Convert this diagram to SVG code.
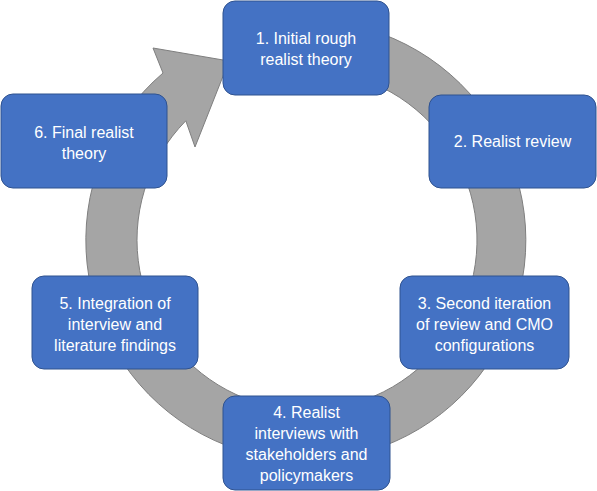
<svg xmlns="http://www.w3.org/2000/svg" width="597" height="491" viewBox="0 0 597 491">
<style>
.box{fill:#4472C4;stroke:#2F528F;stroke-width:1}
.lbl{fill:#FFFFFF;font-family:"Liberation Sans",Arial,sans-serif;font-size:16px;text-anchor:middle}
.ring{fill:#A5A5A5;stroke:#7F7F7F;stroke-width:1}
</style>
<rect width="597" height="491" fill="#FFFFFF"/>
<g id="connectors">
<path class="ring" d="M185.8,120.8 L195,147 L229,61 L153,48 L163,73 A220,220 0 1 0 250.1,27.5 L263,75.8 A170,170 0 1 1 185.8,120.8 Z"/>
</g>
<g id="node1">
<rect class="box" x="223" y="1" width="166" height="94" rx="12"/>
<text class="lbl" x="306" y="43.5">1. Initial rough</text>
<text class="lbl" x="306" y="64.5">realist theory</text>
</g>
<g id="node2">
<rect class="box" x="429" y="95" width="167" height="93" rx="12"/>
<text class="lbl" x="512.5" y="147">2. Realist review</text>
</g>
<g id="node3">
<rect class="box" x="400" y="276" width="169" height="93" rx="12"/>
<text class="lbl" x="484.5" y="308.5">3. Second iteration</text>
<text class="lbl" x="484.5" y="329.5">of review and CMO</text>
<text class="lbl" x="484.5" y="350.5">configurations</text>
</g>
<g id="node4">
<rect class="box" x="223" y="396" width="167" height="94" rx="12"/>
<text class="lbl" x="306.5" y="417.5">4. Realist</text>
<text class="lbl" x="306.5" y="438.5">interviews with</text>
<text class="lbl" x="306.5" y="459.5">stakeholders and</text>
<text class="lbl" x="306.5" y="480.5">policymakers</text>
</g>
<g id="node5">
<rect class="box" x="32" y="276" width="166" height="93" rx="12"/>
<text class="lbl" x="115" y="308.5">5. Integration of</text>
<text class="lbl" x="115" y="329.5">interview and</text>
<text class="lbl" x="115" y="350.5">literature findings</text>
</g>
<g id="node6">
<rect class="box" x="1" y="94" width="166" height="94" rx="12"/>
<text class="lbl" x="84" y="137.5">6. Final realist</text>
<text class="lbl" x="84" y="158.5">theory</text>
</g>
</svg>
